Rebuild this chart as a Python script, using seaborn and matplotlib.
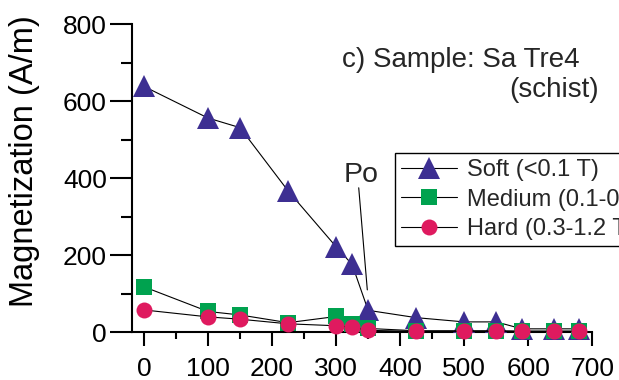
import matplotlib
matplotlib.use("Agg")
import matplotlib.pyplot as plt
import pandas as pd
import seaborn as sns
from matplotlib.ticker import FixedLocator, MultipleLocator

# Demagnetisation temperatures (°C) and remanence of each coercivity fraction (A/m)
temperature = [0, 100, 150, 225, 300, 325, 350, 425, 500, 550, 590, 640, 680]
soft = [638, 556, 531, 367, 222, 176, 57, 38, 27, 27, 9, 9, 9]
medium = [118, 54, 45, 25, 41, 21, 10, 4, 4, 4, 3, 3, 3]
hard = [58, 40, 34, 22, 17, 13, 5, 2.5, 2.5, 2.5, 2.5, 2.5, 2.5]

series_labels = ["Soft (<0.1 T)", "Medium (0.1-0.3 T)", "Hard (0.3-1.2 T)"]
x_ticks = [0, 100, 200, 300, 400, 500, 600, 700]
y_ticks = [0, 200, 400, 600, 800]

sample_title = "c) Sample: Sa Tre4"
sample_rock = "(schist)"
y_label = "Magnetization (A/m)"
mineral_label = "Po"

df = pd.concat(
    [
        pd.DataFrame({"temperature": temperature, "magnetization": vals, "fraction": lab})
        for vals, lab in zip([soft, medium, hard], series_labels)
    ],
    ignore_index=True,
)

sns.set_theme(style="ticks")
plt.rcParams["font.family"] = ["Liberation Sans", "DejaVu Sans"]

W, H = 619, 380
fig = plt.figure(figsize=(W / 100, H / 100), dpi=100)
# axes frame in pixel terms: left spine x=132, x-axis at y=332, top tick at y=24
ax = fig.add_axes([132 / W, 1 - 332.3 / H, (592.3 - 132) / W, (332.3 - 24) / H])

styles = {
    series_labels[0]: dict(marker="^", markersize=16, color="#3D2F92"),
    series_labels[1]: dict(marker="s", markersize=11, color="#00A24F"),
    series_labels[2]: dict(marker="o", markersize=11.5, color="#DF1A5F"),
}

handles = []
for lab in series_labels:
    st = styles[lab]
    n_before = len(ax.lines)
    sns.lineplot(
        data=df[df["fraction"] == lab],
        x="temperature",
        y="magnetization",
        ax=ax,
        color="black",
        linewidth=0.8,
        marker=st["marker"],
        markersize=st["markersize"],
        markerfacecolor=st["color"],
        markeredgecolor=st["color"],
        markeredgewidth=0,
        clip_on=False,
        zorder=3,
        legend=False,
    )
    line = ax.lines[n_before]
    line.set_label(lab)
    handles.append(line)

ax.set_xlim(-18.7, 700)
ax.set_ylim(0, 800)
ax.xaxis.set_major_locator(FixedLocator(x_ticks))
ax.xaxis.set_minor_locator(MultipleLocator(50))
ax.yaxis.set_major_locator(FixedLocator(y_ticks))
ax.yaxis.set_minor_locator(MultipleLocator(100))

ax.tick_params(axis="y", which="major", length=16, width=1.5, pad=2,
               labelsize=19, colors="black", direction="out")
ax.tick_params(axis="y", which="minor", length=8, width=1.5, colors="black")
ax.tick_params(axis="x", which="major", length=10, width=1.5, pad=7.5,
               labelsize=19, colors="black", direction="out")
ax.tick_params(axis="x", which="minor", length=5, width=1.5, colors="black")

for side in ("top", "right"):
    ax.spines[side].set_visible(False)
for side in ("left", "bottom"):
    ax.spines[side].set_linewidth(1.5)
    ax.spines[side].set_color("black")

ax.set_xlabel("")
ax.set_ylabel(y_label, fontsize=23.5, color="black")
ax.yaxis.label.set_va("baseline")
ax.yaxis.set_label_coords((33.3 - 132) / (592.3 - 132), (332.3 - 161) / (332.3 - 24))

# sample name in the upper right
fig.text(341.7 / W, 1 - 66.7 / H, sample_title, fontsize=20, ha="left", va="baseline")
fig.text(599 / W, 1 - 96.7 / H, sample_rock, fontsize=20, ha="right", va="baseline")

# pyrrhotite marker pointing at the drop of the soft fraction
ax.text(311.2, 391, mineral_label, fontsize=20.5, ha="left", va="baseline")
ax.annotate("", xy=(348.7, 110), xytext=(335.3, 375),
            arrowprops=dict(arrowstyle="-", color="black", lw=0.8,
                            shrinkA=0, shrinkB=0))

leg = ax.legend(
    handles=handles,
    labels=series_labels,
    loc="upper left",
    bbox_to_anchor=(395 / W, 1 - 153.3 / H),
    bbox_transform=fig.transFigure,
    borderaxespad=0,
    frameon=True,
    fancybox=False,
    edgecolor="black",
    framealpha=1,
    fontsize=17,
    handlelength=2.37,
    handletextpad=0.42,
    labelspacing=0.32,
    borderpad=0.25,
)
leg.get_frame().set_linewidth(1.0)

fig.savefig("out.png", dpi=100)
